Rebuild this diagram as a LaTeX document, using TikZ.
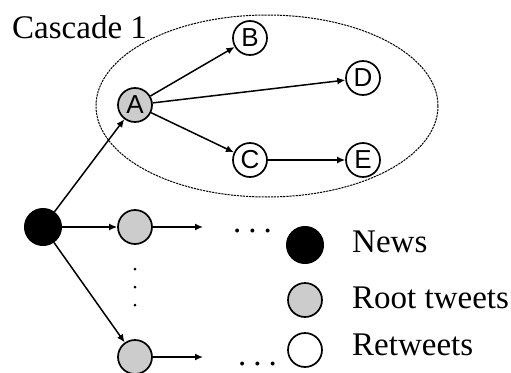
\documentclass[tikz,border=0pt]{standalone}
\usepackage{fontspec}
\setmainfont{Liberation Serif}
\newfontfamily\sansf{Liberation Sans}
\usetikzlibrary{arrows.meta}
\begin{document}
\begin{tikzpicture}[x=1pt,y=-1pt,
  vtx/.style={circle,draw,line width=1.7pt,minimum size=34pt,inner sep=0pt,font=\sansf\fontsize{26}{26}\selectfont},
  rootv/.style={vtx,fill=gray!40},
  newsv/.style={circle,fill=black,draw,line width=1pt,minimum size=37pt,inner sep=0pt},
  arr/.style={line width=1.5pt,-{Latex[length=8pt,width=7pt]}},
  lbl/.style={anchor=base west,inner sep=0pt,font=\fontsize{33}{36}\selectfont},
  vdot/.style={circle,fill=black,inner sep=0pt,minimum size=3pt},
  casc/.style={line width=1pt,dash pattern=on 2.2pt off 0.9pt}]
\useasboundingbox (0,0) rectangle (511,372);
\draw[casc] (267,106) ellipse [x radius=171, y radius=91];
\node[lbl] (title) at (12,38) {Cascade 1};
\node[rootv] (A) at (135,105) {A};
\node[vtx] (B) at (250,38) {B};
\node[vtx] (D) at (363,78) {D};
\node[vtx] (C) at (250,160) {C};
\node[vtx] (E) at (363,160) {E};
\node[newsv] (news) at (43,227) {};
\node[rootv] (r1) at (135,227) {};
\node[rootv] (r2) at (135,357) {};
\coordinate (e1) at (203,227);
\coordinate (e2) at (203,357);
\draw[arr] (news) -- (A);
\draw[arr] (news) -- (r1);
\draw[arr] (news) -- (r2);
\draw[arr] (A) -- (B);
\draw[arr] (A) -- (D);
\draw[arr] (A) -- (C);
\draw[arr] (C) -- (E);
\draw[arr] (r1) -- (e1);
\draw[arr] (r2) -- (e2);
\node[lbl] (d1) at (233,232) {.\kern 7pt.\kern 7pt.};
\node[lbl] (d2) at (238,365) {.\kern 7pt.\kern 7pt.};
\node[vdot] (v1) at (135,269) {};
\node[vdot] (v2) at (135,287) {};
\node[vdot] (v3) at (135,305) {};
\node[newsv] (ln) at (305,245) {};
\node[rootv] (lr) at (305,300) {};
\node[vtx] (lt) at (305,350) {};
\node[lbl] (tn) at (352,252) {News};
\node[lbl] (tr) at (352,308) {Root tweets};
\node[lbl] (tt) at (352,355) {Retweets};
\end{tikzpicture}
\end{document}
